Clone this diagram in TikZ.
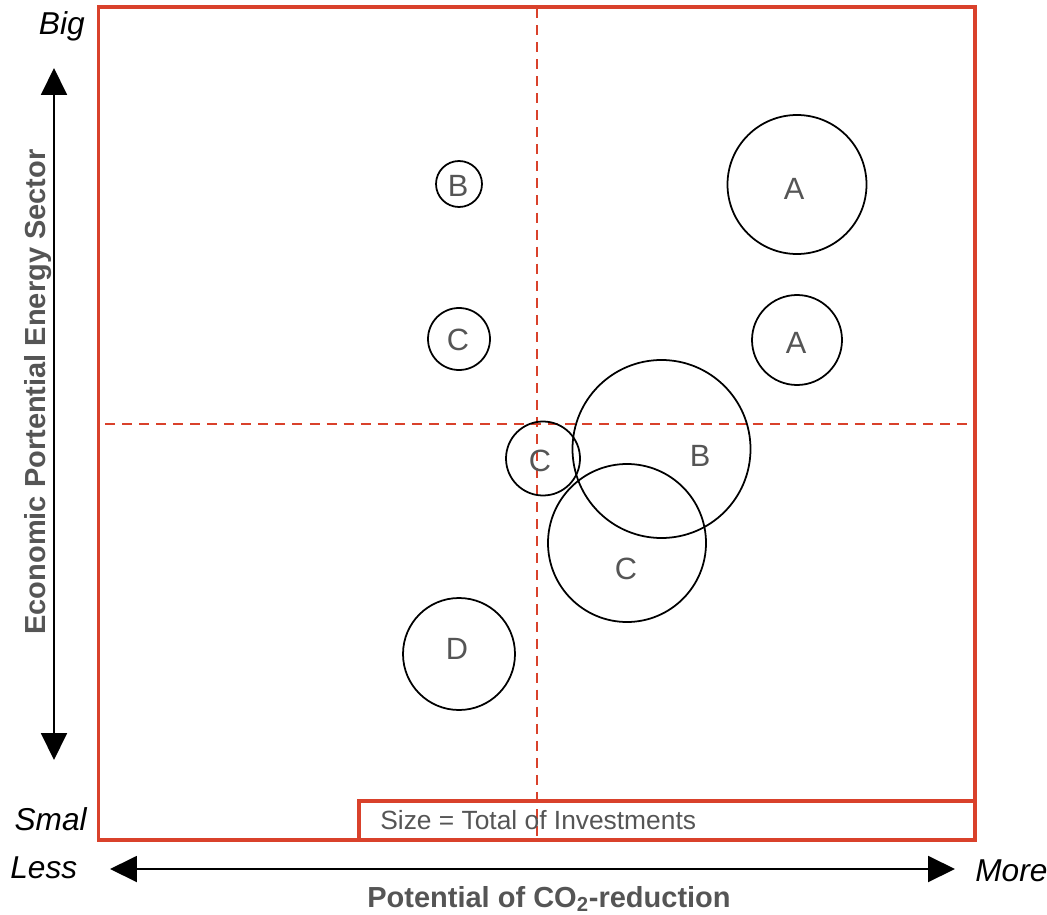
\documentclass[tikz,border=0pt]{standalone}
\usepackage{fontspec}
\setmainfont{Liberation Sans}
\usetikzlibrary{arrows.meta}
\definecolor{framered}{HTML}{D9412B}
\definecolor{labelgray}{HTML}{555555}
\tikzset{
  frame/.style={draw=framered, line width=1.8pt},
  legendbox/.style={draw=framered, line width=2.2pt},
  divider/.style={draw=framered, line width=1.2pt, dash pattern=on 5.7pt off 4pt},
  bubble/.style={circle, draw=black, line width=1pt, inner sep=0pt, minimum size=#1*0.02cm},
  bubbletext/.style={text=labelgray, font=\fontsize{17.5}{20}\selectfont, inner sep=0pt},
  corner/.style={font=\fontsize{18}{21}\selectfont\itshape, inner sep=0pt},
  axistitle/.style={text=labelgray, font=\fontsize{16.5}{19}\selectfont\bfseries, inner sep=0pt},
  axisarrow/.style={line width=1.1pt, {Triangle[width=0.52cm,length=0.54cm]}-{Triangle[width=0.52cm,length=0.54cm]}}
}
\begin{document}
\begin{tikzpicture}[x=0.02cm, y=-0.02cm]
  \useasboundingbox (0,0) rectangle (1047,915);

  % plot area and quadrant dividers
  \draw[frame] (98.5,7) rectangle (975,840);
  \coordinate (vtop) at (537,8);
  \coordinate (vbot) at (537,840);
  \coordinate (hleft) at (105,424);
  \coordinate (hright) at (975,424);
  \draw[divider] (vtop) -- (vbot);
  \draw[divider] (hleft) -- (hright);

  % legend
  \draw[legendbox] (359,801) rectangle (975,840.5);
  \node[anchor=base west, text=labelgray, font=\fontsize{15}{18}\selectfont, inner sep=0pt] (legend) at (380,829) {Size = Total of Investments};

  % bubbles (diameter in px)
  \node[bubble=46]  (b1) at (459,184) {};
  \node[bubble=139] (a1) at (797,184.5) {};
  \node[bubble=62]  (c1) at (459,339) {};
  \node[bubble=90]  (a2) at (797,340) {};
  \node[bubble=178] (b2) at (661.5,449) {};
  \node[bubble=74]  (c2) at (543,458.5) {};
  \node[bubble=158] (c3) at (627,543) {};
  \node[bubble=112] (d1) at (459,654) {};

  \node[bubbletext] (lb1) at (458,186) {B};
  \node[bubbletext] (la1) at (794,189) {A};
  \node[bubbletext] (lc1) at (458,340) {C};
  \node[bubbletext] (la2) at (796,343) {A};
  \node[bubbletext] (lb2) at (700,455.5) {B};
  \node[bubbletext] (lc2) at (540,460.5) {C};
  \node[bubbletext] (lc3) at (626,569) {C};
  \node[bubbletext] (ld1) at (457,649) {D};

  % axes
  \coordinate (ytop) at (54,68);
  \coordinate (ybot) at (54,760);
  \coordinate (xleft) at (110,869);
  \coordinate (xright) at (955,869);
  \draw[axisarrow] (ytop) -- (ybot);
  \draw[axisarrow] (xleft) -- (xright);

  \node[corner, anchor=base east] (big) at (85,35) {Big};
  \node[corner, anchor=base east] (small) at (87,830) {Smal};
  \node[corner, anchor=base west] (less) at (10,878) {Less};
  \node[corner, anchor=base west] (more) at (975,881) {More};

  \node[axistitle, rotate=90, anchor=base] (ytitle) at (45,392) {Economic Portential Energy Sector};
  \node[axistitle, anchor=base] (xtitle) at (549,907) {Potential of CO\textsubscript{2}-reduction};
\end{tikzpicture}
\end{document}
